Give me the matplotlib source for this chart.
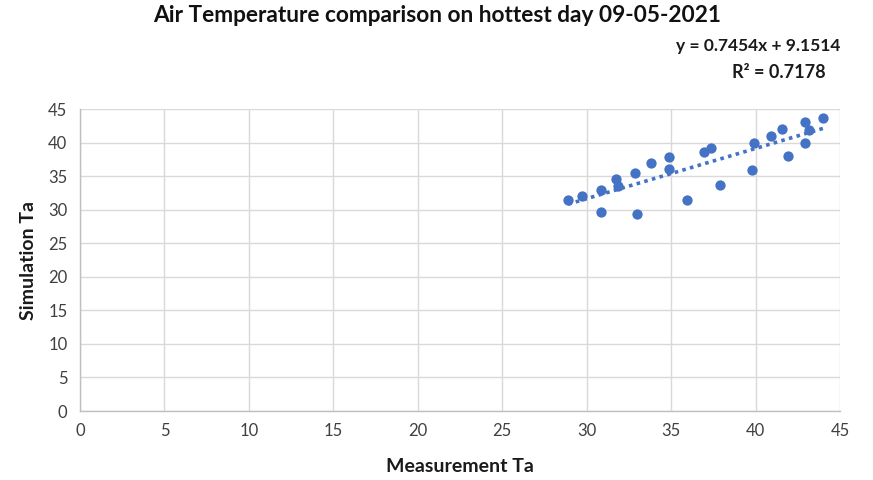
import matplotlib
matplotlib.use("Agg")
import matplotlib.pyplot as plt
import numpy as np

plt.rcParams['font.family'] = ['Lato', 'DejaVu Sans']

measurement_ta = [28.9, 29.75, 30.87, 30.87, 31.76, 31.88, 32.86, 33.0, 33.83, 34.88, 34.88,
                  35.92, 36.95, 37.38, 37.9, 39.79, 39.9, 40.93, 41.54, 41.92, 42.92, 43.16,
                  42.92, 44.0]
simulation_ta = [31.4, 32.0, 33.0, 29.6, 34.5, 33.5, 35.4, 29.4, 37.0, 37.9, 36.1,
                 31.5, 38.6, 39.2, 33.7, 35.9, 40.0, 41.0, 42.0, 38.0, 43.0, 41.8,
                 40.0, 43.6]
ticks = [0, 5, 10, 15, 20, 25, 30, 35, 40, 45]
title = "Air Temperature comparison on hottest day 09-05-2021"
eq_text = "y = 0.7454x + 9.1514"
r2_text = "R² = 0.7178"

blue = "#4472C4"
fig = plt.figure(figsize=(8.73, 4.8), dpi=100)
ax = fig.add_axes([80/873, 1-411/480, 760/873, 302/480])

x = np.array(measurement_ta)
y = np.array(simulation_ta)
ax.scatter(x, y, s=55, color=blue, zorder=3, linewidths=0)
m, b = np.polyfit(x, y, 1)
xx = np.array([x.min(), x.max()])
ax.plot(xx, m*xx + b, linestyle=(0, (1, 1.2)), color=blue, linewidth=2.6, zorder=2)

ax.set_xlim(0, 45)
ax.set_ylim(0, 45)
ax.set_xticks(ticks)
ax.set_yticks(ticks)
ax.grid(True, color="#d9d9d9", linewidth=1)
ax.set_axisbelow(True)
for s in ['top', 'right']:
    ax.spines[s].set_visible(False)
for s in ['left', 'bottom']:
    ax.spines[s].set_color("#bfbfbf")
    ax.spines[s].set_linewidth(1)
ax.tick_params(length=0, labelsize=12, colors="#404040", pad=9)

ax.set_xlabel("Measurement Ta", fontsize=14, fontweight='bold', color="#1a1a1a", labelpad=13)
ax.set_ylabel("Simulation Ta", fontsize=14, fontweight='bold', color="#1a1a1a", labelpad=8)

fig.text(437/873, 1-15/480, title, ha='center', va='center', fontsize=16.3, fontweight='bold', color="#111111")
fig.text(840/873, 1-46/480, eq_text, ha='right', va='center', fontsize=12.5, fontweight='bold', color="#1a1a1a")
fig.text(826/873, 1-73/480, r2_text, ha='right', va='center', fontsize=13, fontweight='bold', color="#1a1a1a")

fig.savefig("out.png", dpi=100)
